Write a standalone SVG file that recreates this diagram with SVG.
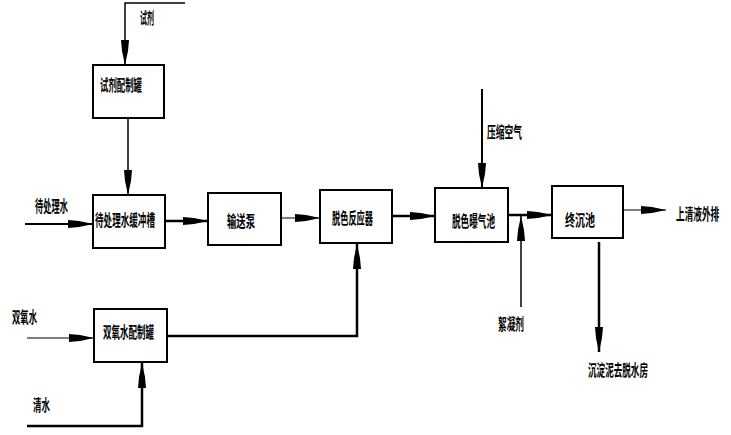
<svg xmlns="http://www.w3.org/2000/svg" width="731" height="435" viewBox="0 0 731 435">
<defs>
<style>
.box{fill:#fff;stroke:#000;stroke-width:2}
.ln{fill:none;stroke:#000}
.t{font-family:"Noto Sans CJK SC","Noto Sans CJK JP",sans-serif;font-size:16px;font-weight:bold;fill:#000}
</style>
<marker id="ar" markerUnits="userSpaceOnUse" markerWidth="26" markerHeight="10" refX="25" refY="5" orient="auto">
<path d="M0,1 L11,2 L25,5 L11,8 L0,9 z" fill="#000"/>
</marker>
</defs>
<rect width="731" height="435" fill="#fff"/>
<g id="connectors">
<polyline class="ln" stroke-width="1.5" points="185,3 125,3 125,65" marker-end="url(#ar)"/>
<line class="ln" stroke-width="1.5" x1="128" y1="118" x2="128" y2="195" marker-end="url(#ar)"/>
<line class="ln" stroke-width="2" x1="25" y1="224" x2="93" y2="224" marker-end="url(#ar)"/>
<line class="ln" stroke-width="2.5" x1="165" y1="221" x2="208" y2="221" marker-end="url(#ar)"/>
<line class="ln" stroke-width="1" x1="281" y1="218" x2="320" y2="218" marker-end="url(#ar)"/>
<line class="ln" stroke-width="2.5" x1="392" y1="216" x2="435" y2="216" marker-end="url(#ar)"/>
<line class="ln" stroke-width="2" x1="482" y1="89" x2="482" y2="188" marker-end="url(#ar)"/>
<line class="ln" stroke-width="2.5" x1="508" y1="215" x2="552" y2="215" marker-end="url(#ar)"/>
<line class="ln" stroke-width="1.5" x1="521" y1="307" x2="521" y2="216" marker-end="url(#ar)"/>
<line class="ln" stroke-width="1.2" x1="623" y1="210" x2="666" y2="210" marker-end="url(#ar)"/>
<line class="ln" stroke-width="2.5" x1="599" y1="242" x2="599" y2="352" marker-end="url(#ar)"/>
<line class="ln" stroke-width="1" x1="27" y1="338" x2="94" y2="338" marker-end="url(#ar)"/>
<polyline class="ln" stroke-width="2.5" points="167,336 357,336 357,244" marker-end="url(#ar)"/>
<polyline class="ln" stroke-width="2.5" points="27,426 142,426 142,363" marker-end="url(#ar)"/>
</g>
<g id="reagent-tank">
<rect class="box" x="93" y="65" width="71" height="53"/>
<text class="t" x="100" y="91" textLength="42" lengthAdjust="spacingAndGlyphs">试剂配制罐</text>
</g>
<g id="buffer-tank">
<rect class="box" x="93" y="195" width="72" height="53"/>
<text class="t" x="95" y="226" textLength="60" lengthAdjust="spacingAndGlyphs">待处理水缓冲槽</text>
</g>
<g id="pump">
<rect class="box" x="208" y="193" width="73" height="52"/>
<text class="t" x="227" y="227" textLength="28" lengthAdjust="spacingAndGlyphs">输送泵</text>
</g>
<g id="reactor">
<rect class="box" x="320" y="190" width="72" height="53"/>
<text class="t" x="332" y="224" textLength="41" lengthAdjust="spacingAndGlyphs">脱色反应器</text>
</g>
<g id="aeration">
<rect class="box" x="435" y="188" width="73" height="54"/>
<text class="t" x="452" y="227" textLength="43" lengthAdjust="spacingAndGlyphs">脱色曝气池</text>
</g>
<g id="final-settler">
<rect class="box" x="552" y="186" width="71" height="52"/>
<text class="t" x="565" y="226" textLength="30" lengthAdjust="spacingAndGlyphs">终沉池</text>
</g>
<g id="h2o2-tank">
<rect class="box" x="94" y="309" width="73" height="53"/>
<text class="t" x="103" y="338" textLength="51" lengthAdjust="spacingAndGlyphs">双氧水配制罐</text>
</g>
<g id="labels">
<text class="t" x="140" y="24" textLength="14" lengthAdjust="spacingAndGlyphs">试剂</text>
<text class="t" x="35" y="212" textLength="33" lengthAdjust="spacingAndGlyphs">待处理水</text>
<text class="t" x="487" y="138" textLength="35" lengthAdjust="spacingAndGlyphs">压缩空气</text>
<text class="t" transform="translate(676,220) scale(0.54,1)">上清液外排</text>
<text class="t" x="498" y="330" textLength="26" lengthAdjust="spacingAndGlyphs">絮凝剂</text>
<text class="t" x="588" y="376" textLength="60" lengthAdjust="spacingAndGlyphs">沉淀泥去脱水房</text>
<text class="t" x="12" y="323" textLength="25" lengthAdjust="spacingAndGlyphs">双氧水</text>
<text class="t" x="33" y="411" textLength="17" lengthAdjust="spacingAndGlyphs">清水</text>
</g>
</svg>
